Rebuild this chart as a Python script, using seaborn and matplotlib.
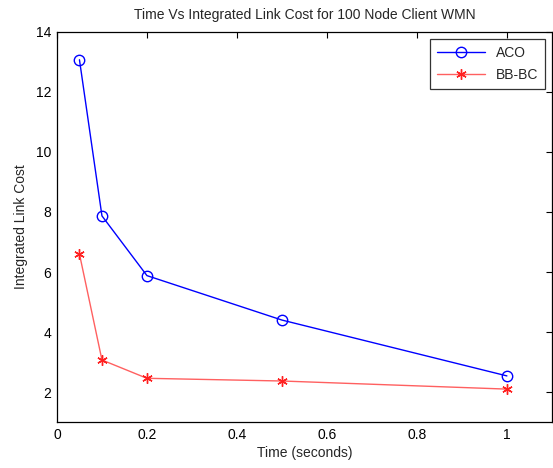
import matplotlib
matplotlib.use("Agg")
import matplotlib.pyplot as plt
import seaborn as sns

time_s = [0.05, 0.1, 0.2, 0.5, 1.0]
aco_cost = [13.07, 7.87, 5.88, 4.40, 2.54]
bbbc_cost = [6.60, 3.07, 2.46, 2.37, 2.10]
x_ticks = [0, 0.2, 0.4, 0.6, 0.8, 1.0]
x_tick_labels = ["0", "0.2", "0.4", "0.6", "0.8", "1"]
y_ticks = [2, 4, 6, 8, 10, 12, 14]

sns.set_theme(style="white")
plt.rcParams["font.family"] = ["Liberation Sans", "DejaVu Sans"]

fig = plt.figure(figsize=(5.53, 4.68), dpi=100)
ax = fig.add_axes([0.103, 0.098, 0.895, 0.834])

sns.lineplot(x=time_s, y=aco_cost, color="#0000ff", marker="o", markersize=7.5,
             markerfacecolor="none", markeredgecolor="#0000ff", markeredgewidth=1.0,
             linewidth=1.0, label="ACO", ax=ax)
sns.lineplot(x=time_s, y=bbbc_cost, color="#ff6060", marker=(6, 2, 0), markersize=7.5,
             markeredgecolor="#ff2020", markeredgewidth=1.0,
             linewidth=1.0, label="BB-BC", ax=ax)

ax.set_xlim(0, 1.1)
ax.set_ylim(1, 14)
ax.set_xticks(x_ticks)
ax.set_xticklabels(x_tick_labels)
ax.set_yticks(y_ticks)
ax.tick_params(direction="in", length=4, width=0.8, labelsize=10,
               top=True, right=True, colors="black", pad=4)
for sp in ax.spines.values():
    sp.set_color("black")
    sp.set_linewidth(0.9)

ax.set_xlabel("Time (seconds)", fontsize=10, labelpad=3)
ax.set_ylabel("Integrated Link Cost", fontsize=10, labelpad=6)
ax.set_title("Time Vs Integrated Link Cost for 100 Node Client WMN", fontsize=10, pad=9)

leg = ax.legend(loc="upper right", fontsize=10, frameon=True, fancybox=False,
                edgecolor="black", borderaxespad=0.5, handlelength=3.4,
                labelspacing=0.6, borderpad=0.5)
leg.get_frame().set_linewidth(0.9)

fig.savefig("out.png", dpi=100)
